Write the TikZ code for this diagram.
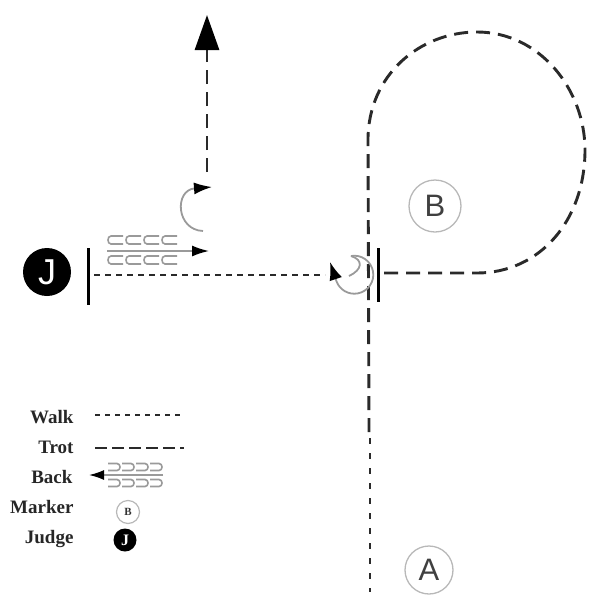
\documentclass[tikz,border=0pt]{standalone}
\usepackage{fontspec}
\setmainfont{Liberation Serif}
\newfontfamily\sansf{Liberation Sans}
\usetikzlibrary{arrows.meta}
\definecolor{ink}{HTML}{2A2A2A}
\definecolor{soft}{HTML}{9A9A9A}
\tikzset{
  walkline/.style={ink, line width=2.8pt, dash pattern=on 6pt off 5pt},
  walklegend/.style={ink, line width=2.4pt, dash pattern=on 5pt off 5pt},
  walkdots/.style={ink, line width=2.8pt, dash pattern=on 6pt off 9pt},
  trotline/.style={ink, line width=2.9pt, dash pattern=on 14pt off 8pt},
  trotlegend/.style={ink, line width=2.6pt, dash pattern=on 12pt off 5pt},
  barline/.style={black, line width=3pt},
  turnarc/.style={soft, line width=1.8pt},
  backc/.style={soft, line width=1.6pt},
  marker/.style={circle, draw=soft!70, line width=1.3pt, inner sep=0pt, text=black!75,
    font=\sansf\fontsize{31}{31}\selectfont},
  judgemark/.style={circle, fill=black, inner sep=0pt, text=white},
  legendtext/.style={anchor=base east, font=\bfseries\fontsize{19}{19}\selectfont, text=black!85},
}
\begin{document}
\begin{tikzpicture}[x=1pt,y=-1pt]
\useasboundingbox (0,0) rectangle (590,598);

% markers and judge
\node[judgemark, minimum size=48pt, font=\sansf\fontsize{36}{36}\selectfont] (judge) at (47,272) {J};
\node[marker, minimum size=52pt] (mB) at (435,206) {B};
\node[marker, minimum size=48pt] (mA) at (429,570) {A};

% bars
\coordinate (jbarT) at (88,248); \coordinate (jbarB) at (88,305);
\coordinate (cbarT) at (378,248); \coordinate (cbarB) at (378,302);
\draw[barline] (jbarT) -- (jbarB);
\draw[barline] (cbarT) -- (cbarB);

% walk from J bar to centre
\coordinate (w1) at (94,275); \coordinate (w2) at (325,275);
\draw[walkline] (w1) -- (w2);

% trot loop and centre line
\coordinate (c1) at (369,432); \coordinate (c2) at (368,140);
\coordinate (loopend) at (381,273);
\draw[trotline] (c1) -- (c2) .. controls (368,75) and (420,32) .. (477,32)
  .. controls (540,32) and (585,90) .. (585,150)
  .. controls (585,220) and (540,273) .. (477,273) -- (loopend);

% walk from A
\coordinate (a1) at (370,438); \coordinate (a2) at (370,592);
\draw[walkdots] (a1) -- (a2);

% upper trot arrow
\coordinate (u1) at (207,172); \coordinate (u2) at (207,15);
\draw[trotline, -{Triangle[length=35pt,width=24pt,color=black]}] (u1) -- (u2);

% small turn below the arrow
\coordinate (t1) at (203,231); \coordinate (t2) at (212,187);
\draw[turnarc, -{Latex[length=18pt,width=12pt,color=black]}] (t1) .. controls (176,230) and (174,190) .. (t2);

% centre turn
\coordinate (s1) at (351,256);
\draw[turnarc, -{Latex[length=18pt,width=13pt,color=black]}] (s1) arc[start angle=100,end angle=-160,radius=19pt] -- (330,262);
\draw[turnarc] (s1) .. controls (364,260) and (362,270) .. (349,276);

% backing symbol at J
\foreach \i in {0,...,3} {
  \pgfmathsetmacro{\xx}{107+18*\i}
  \draw[backc] (\xx+16,236) -- (\xx+4,236) .. controls (\xx,236) and (\xx,244) .. (\xx+4,244) -- (\xx+16,244);
  \draw[backc] (\xx+16,256) -- (\xx+4,256) .. controls (\xx,256) and (\xx,264) .. (\xx+4,264) -- (\xx+16,264);
}
\coordinate (b1) at (107,251); \coordinate (b2) at (209,251);
\draw[backc, -{Latex[length=17pt,width=11pt,color=black]}] (b1) -- (b2);

% legend
\node[legendtext] (lw) at (77,423) {Walk};
\node[legendtext] (lt) at (77,453) {Trot};
\node[legendtext] (lb) at (76,483) {Back};
\node[legendtext] (lm) at (77,513) {Marker};
\node[legendtext] (lj) at (77,543) {Judge};

\coordinate (lw1) at (95,415); \coordinate (lw2) at (184,415);
\draw[walklegend] (lw1) -- (lw2);
\coordinate (lt1) at (95,448); \coordinate (lt2) at (184,448);
\draw[trotlegend] (lt1) -- (lt2);

\foreach \i in {0,...,3} {
  \pgfmathsetmacro{\xx}{108+14*\i}
  \draw[backc] (\xx,463.5) -- (\xx+9,463.5) .. controls (\xx+13,463.5) and (\xx+13,470.5) .. (\xx+9,470.5) -- (\xx,470.5);
  \draw[backc] (\xx,479.5) -- (\xx+9,479.5) .. controls (\xx+13,479.5) and (\xx+13,486.5) .. (\xx+9,486.5) -- (\xx,486.5);
}
\coordinate (lb1) at (163,475); \coordinate (lb2) at (89,475);
\draw[backc, -{Latex[length=15pt,width=10pt,color=black]}] (lb1) -- (lb2);

\node[circle, draw=soft!70, line width=1.2pt, minimum size=23pt, inner sep=0pt,
  font=\bfseries\fontsize{11}{11}\selectfont, text=black!80] (lmk) at (128,512) {B};
\node[judgemark, minimum size=23pt, font=\bfseries\fontsize{16}{16}\selectfont] (ljd) at (125,540) {J};
\end{tikzpicture}
\end{document}
